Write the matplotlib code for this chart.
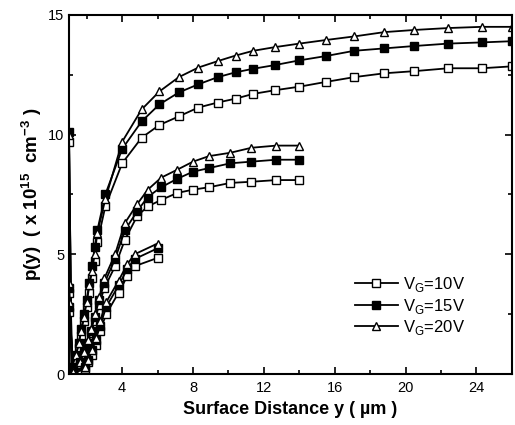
import matplotlib
matplotlib.use("Agg")
import matplotlib.pyplot as plt
from matplotlib.ticker import MultipleLocator

plt.rcParams['font.family'] = ['Liberation Sans', 'DejaVu Sans']
plt.rcParams['mathtext.fontset'] = 'custom'
plt.rcParams['mathtext.rm'] = 'Liberation Sans'
plt.rcParams['mathtext.bf'] = 'Liberation Sans:bold'

# Hole concentration p(y) along the channel surface, three channel lengths,
# each at three gate voltages
x_long = [1.0, 1.15, 1.4, 1.55, 1.7, 1.85, 2.0, 2.15, 2.3, 2.45, 2.6, 3.05, 4.0,
          5.1, 6.1, 7.2, 8.3, 9.4, 10.4, 11.4, 12.6, 14.0, 15.5, 17.1, 18.8,
          20.5, 22.4, 24.3, 26.0]
p_long_10 = [9.7, 0.2, 0.6, 1.1, 1.6, 2.2, 2.8, 3.4, 4.0, 4.7, 5.5, 7.0, 8.8,
             9.87, 10.4, 10.76, 11.13, 11.34, 11.5, 11.7, 11.85, 12.0, 12.2, 12.4,
             12.56, 12.65, 12.77, 12.77, 12.85]
p_long_15 = [10.1, 0.3, 0.8, 1.3, 1.9, 2.5, 3.1, 3.8, 4.5, 5.3, 6.0, 7.5, 9.4,
             10.55, 11.26, 11.76, 12.1, 12.4, 12.6, 12.75, 12.9, 13.1, 13.28, 13.5,
             13.6, 13.7, 13.8, 13.85, 13.9]
p_long_20 = [10.0, 0.3, 0.8, 1.3, 1.8, 2.4, 3.0, 3.7, 4.3, 5.0, 5.9, 7.3, 9.7,
             11.05, 11.8, 12.4, 12.8, 13.07, 13.3, 13.5, 13.65, 13.8, 13.95, 14.1,
             14.28, 14.37, 14.45, 14.5, 14.5]

x_mid = [1.0, 1.2, 1.6, 1.85, 2.05, 2.25, 2.45, 2.7, 3.0, 3.6, 4.15, 4.85, 5.45,
         6.2, 7.1, 8.0, 8.9, 10.1, 11.3, 12.7, 14.0]
p_mid_10 = [3.4, 0.1, 0.4, 0.8, 1.2, 1.7, 2.2, 2.9, 3.6, 4.5, 5.6, 6.6, 7.0,
            7.27, 7.56, 7.7, 7.8, 7.98, 8.03, 8.1, 8.1]
p_mid_15 = [3.6, 0.2, 0.5, 0.9, 1.3, 1.8, 2.4, 3.1, 3.8, 4.8, 6.0, 6.8, 7.4,
            7.8, 8.15, 8.45, 8.6, 8.8, 8.87, 8.95, 8.95]
p_mid_20 = [3.8, 0.2, 0.5, 0.9, 1.4, 1.9, 2.5, 3.2, 4.0, 5.0, 6.3, 7.1, 7.7,
            8.2, 8.53, 8.87, 9.1, 9.24, 9.45, 9.54, 9.54]

x_short = [1.0, 1.25, 1.9, 2.1, 2.3, 2.5, 2.75, 3.1, 3.8, 4.3, 4.7, 6.0]
p_short_10 = [2.6, 0.05, 0.2, 0.5, 0.8, 1.2, 1.8, 2.5, 3.4, 4.1, 4.5, 4.85]
p_short_15 = [2.8, 0.1, 0.3, 0.6, 1.0, 1.4, 2.0, 2.8, 3.7, 4.4, 4.8, 5.25]
p_short_20 = [3.0, 0.1, 0.3, 0.6, 1.0, 1.5, 2.2, 3.0, 3.9, 4.6, 5.0, 5.45]

legend_labels = ['V$_\\mathregular{G}$=10V', 'V$_\\mathregular{G}$=15V',
                 'V$_\\mathregular{G}$=20V']

fig = plt.figure(figsize=(5.15, 4.25), dpi=100)
ax = fig.add_axes([0.134, 0.12, 0.86, 0.845])

styles = [dict(marker='s', mfc='white'),
          dict(marker='s', mfc='black'),
          dict(marker='^', mfc='white')]
common = dict(color='black', mec='black', lw=1.3, ms=6.3, mew=1.0)

groups = [(x_long, [p_long_10, p_long_15, p_long_20]),
          (x_mid, [p_mid_10, p_mid_15, p_mid_20]),
          (x_short, [p_short_10, p_short_15, p_short_20])]

handles = []
for gi, (xs, series) in enumerate(groups):
    for si, ys in enumerate(series):
        h, = ax.plot(xs, ys, **styles[si], **common)
        if gi == 0:
            handles.append(h)

ax.set_xlim(1, 26)
ax.set_ylim(0, 15)
ax.xaxis.set_major_locator(MultipleLocator(4))
ax.xaxis.set_minor_locator(MultipleLocator(2))
ax.yaxis.set_major_locator(MultipleLocator(5))
ax.yaxis.set_minor_locator(MultipleLocator(2.5))
ax.tick_params(which='both', direction='in', top=True, right=True,
               labelsize=10.5, width=1.2)
ax.tick_params(axis='x', which='both', pad=5)
ax.tick_params(which='major', length=5)
ax.tick_params(which='minor', length=3)
for sp in ax.spines.values():
    sp.set_linewidth(1.5)

ax.set_xlabel('Surface Distance y ( \u00b5m )', fontsize=13,
              fontweight='bold', labelpad=4)
ax.set_ylabel('p(y)  ( x 10$^{\\mathbf{15}}$  cm$^{\\mathbf{-3}}$ )',
              fontsize=13.5, fontweight='bold', labelpad=3)

ax.legend(handles, legend_labels, loc='upper left',
          bbox_to_anchor=(0.645, 0.275), frameon=False, fontsize=12,
          handlelength=2.6, handletextpad=0.3, labelspacing=0.15,
          borderpad=0, borderaxespad=0)

fig.savefig('out.png', dpi=100)
